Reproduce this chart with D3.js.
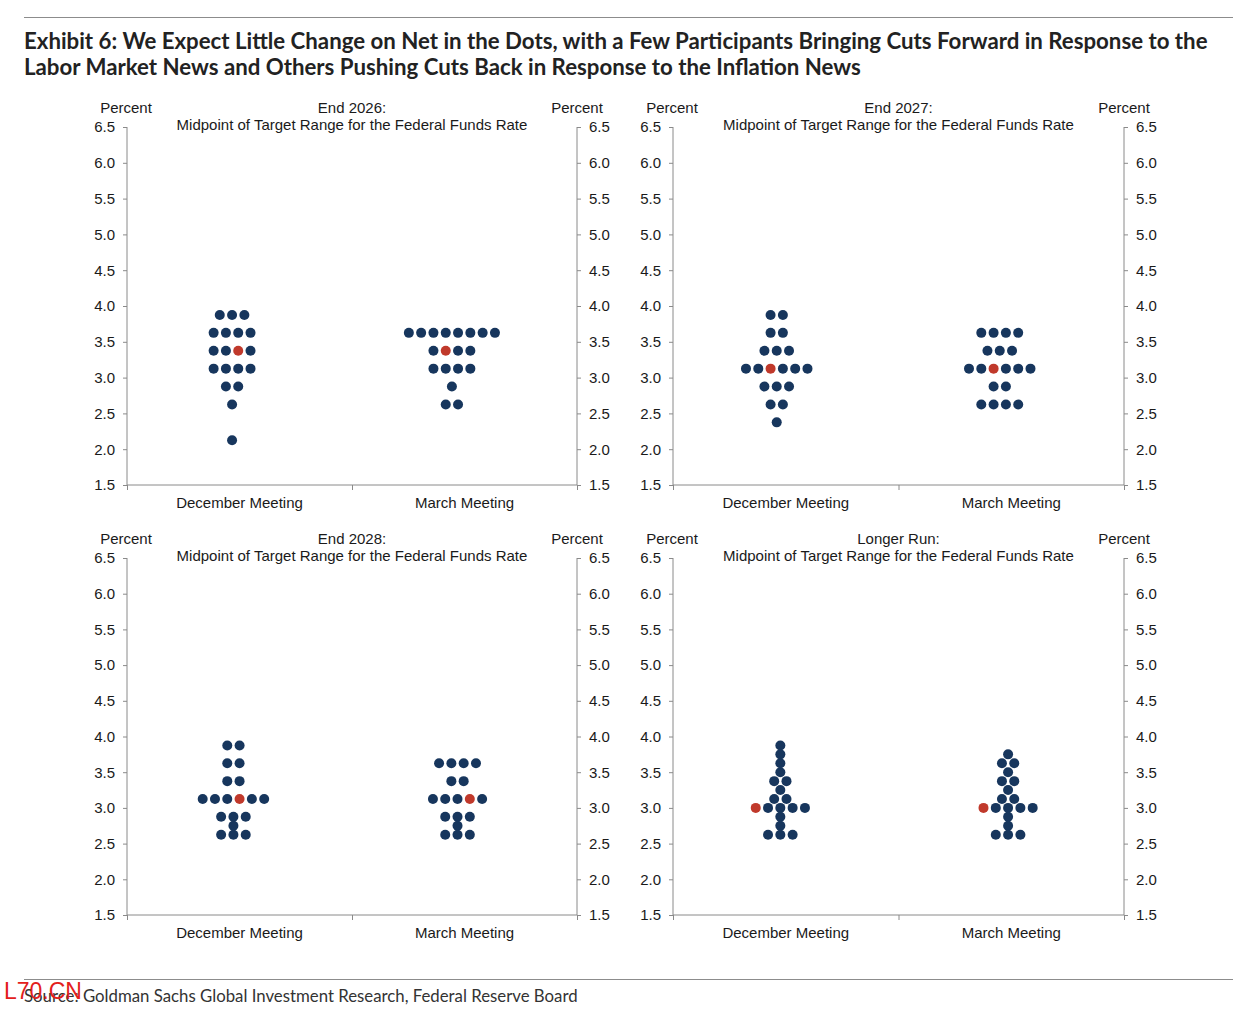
<!DOCTYPE html>
<html>
<head>
<meta charset="utf-8">
<script src="https://cdn.jsdelivr.net/npm/d3@7/dist/d3.min.js"></script>
<style>
  body { margin: 0; background: #fff; }
  svg text { font-family: "Liberation Sans", Arial, sans-serif; }
</style>
</head>
<body>
<div id="chart"></div>
<script>
// Data

var meetings = ["December Meeting", "March Meeting"];
var yTicks = [1.5, 2.0, 2.5, 3.0, 3.5, 4.0, 4.5, 5.0, 5.5, 6.0, 6.5];
var panelTitles = ["End 2026:", "End 2027:", "End 2028:", "Longer Run:"];

// each row: [rate, number of dots, index of median dot (-1 = none)]
var dec2026 = [[3.875, 3, -1], [3.625, 4, -1], [3.375, 4, 2], [3.125, 4, -1], [2.875, 2, -1], [2.625, 1, -1], [2.125, 1, -1]];
var mar2026 = [[3.625, 8, -1], [3.375, 4, 1], [3.125, 4, -1], [2.875, 1, -1], [2.625, 2, -1]];

var dec2027 = [[3.875, 2, -1], [3.625, 2, -1], [3.375, 3, -1], [3.125, 6, 2], [2.875, 3, -1], [2.625, 2, -1], [2.375, 1, -1]];
var mar2027 = [[3.625, 4, -1], [3.375, 3, -1], [3.125, 6, 2], [2.875, 2, -1], [2.625, 4, -1]];

var dec2028 = [[3.875, 2, -1], [3.625, 2, -1], [3.375, 2, -1], [3.125, 6, 3], [2.875, 3, -1], [2.75, 1, -1], [2.625, 3, -1]];
var mar2028 = [[3.625, 4, -1], [3.375, 2, -1], [3.125, 5, 3], [2.875, 3, -1], [2.75, 1, -1], [2.625, 3, -1]];

var decLR = [[3.875, 1, -1], [3.75, 1, -1], [3.625, 1, -1], [3.5, 1, -1], [3.375, 2, -1], [3.25, 1, -1], [3.125, 2, -1], [3.0, 5, 0], [2.875, 1, -1], [2.75, 1, -1], [2.625, 3, -1]];
var marLR = [[3.75, 1, -1], [3.625, 2, -1], [3.5, 1, -1], [3.375, 2, -1], [3.25, 1, -1], [3.125, 2, -1], [3.0, 5, 0], [2.875, 1, -1], [2.75, 1, -1], [2.625, 3, -1]];

// Layout

var W = 1247, H = 1009;
var navy = "#17365d";
var red = "#c0392b";
var axisColor = "#8a8a8a";
var textColor = "#1a1a1a";

var svg = d3.select("#chart").append("svg")
  .attr("width", W)
  .attr("height", H);

// panel boxes (plot area)
var panels = [
  { left: 127, right: 577, top: 127, bottom: 485, dec: dec2026, mar: mar2026, cx: [0.467, 1.444] },
  { left: 673, right: 1124, top: 127, bottom: 485, dec: dec2027, mar: mar2027, cx: [0.460, 1.449] },
  { left: 127, right: 577, top: 558, bottom: 915, dec: dec2028, mar: mar2028, cx: [0.473, 1.469] },
  { left: 673, right: 1124, top: 558, bottom: 915, dec: decLR, mar: marLR, cx: [0.476, 1.486] }
];

var dotR = 5;
var dotGap = 12.3;

// Rules
svg.append("line").attr("x1", 24).attr("x2", 1233).attr("y1", 17.5).attr("y2", 17.5)
  .attr("stroke", "#8c8c8c").attr("stroke-width", 1);
svg.append("line").attr("x1", 24).attr("x2", 1233).attr("y1", 979.5).attr("y2", 979.5)
  .attr("stroke", "#8c8c8c").attr("stroke-width", 1);

// Title
var titleLines = [
  "Exhibit 6: We Expect Little Change on Net in the Dots, with a Few Participants Bringing Cuts Forward in Response to the",
  "Labor Market News and Others Pushing Cuts Back in Response to the Inflation News"
];
var t1 = svg.append("text")
  .attr("x", 24).attr("y", 49)
  .style("font-family", "Lato, 'Open Sans', sans-serif")
  .style("font-weight", "bold")
  .style("font-size", "20px")
  .attr("fill", "#222")
  .text(titleLines[0]);
// fit the first line to its width in the picture
var len = t1.node().getComputedTextLength();
var fs = 20 * 1184 / len;
t1.style("font-size", fs + "px");
svg.append("text")
  .attr("x", 24).attr("y", 75)
  .style("font-family", "Lato, 'Open Sans', sans-serif")
  .style("font-weight", "bold")
  .style("font-size", fs + "px")
  .attr("fill", "#222")
  .text(titleLines[1]);

// Source
var src = svg.append("text")
  .attr("x", 24).attr("y", 1002)
  .style("font-family", "Lato, 'Open Sans', sans-serif")
  .style("font-size", "16px")
  .attr("fill", "#333")
  .text("Source: Goldman Sachs Global Investment Research, Federal Reserve Board");
var sl = src.node().getComputedTextLength();
src.style("font-size", (16 * 554 / sl) + "px");

// watermark
svg.append("text")
  .attr("x", 4).attr("y", 999)
  .style("font-size", "23px")
  .attr("fill", "#e3201b")
  .text("L70.CN");

// Panels
panels.forEach(function(p, i) {
  var g = svg.append("g");

  var x = d3.scaleLinear().domain([0, 2]).range([p.left, p.right]);
  var y = d3.scaleLinear().domain([1.5, 6.5]).range([p.bottom, p.top]);

  var yLeft = d3.axisLeft(y).tickValues(yTicks).tickSize(4).tickPadding(8).tickFormat(d3.format(".1f"));
  var yRight = d3.axisRight(y).tickValues(yTicks).tickSize(4).tickPadding(8).tickFormat(d3.format(".1f"));
  var xAxis = d3.axisBottom(x).tickValues([0, 1, 2]).tickSize(5).tickFormat("");

  function styleAxis(sel) {
    sel.select(".domain").attr("stroke", axisColor);
    sel.selectAll(".tick line").attr("stroke", axisColor);
    sel.selectAll(".tick text")
      .attr("fill", textColor)
      .style("font-size", "15px")
      .style("font-family", "'Liberation Sans', Arial, sans-serif");
  }

  g.append("g").attr("transform", "translate(" + p.left + ",0)").call(yLeft).call(styleAxis)
    .select(".domain").attr("d", "M0," + p.top + "V" + p.bottom);
  g.append("g").attr("transform", "translate(" + p.right + ",0)").call(yRight).call(styleAxis)
    .select(".domain").attr("d", "M0," + p.top + "V" + p.bottom);
  g.append("g").attr("transform", "translate(0," + p.bottom + ")").call(xAxis).call(styleAxis)
    .select(".domain").attr("d", "M" + p.left + ",0H" + p.right);

  // category labels
  meetings.forEach(function(m, j) {
    g.append("text")
      .attr("x", x(j + 0.5))
      .attr("y", p.bottom + 23)
      .attr("text-anchor", "middle")
      .style("font-size", "15px")
      .attr("fill", textColor)
      .text(m);
  });

  // headers
  var mid = (p.left + p.right) / 2;
  g.append("text").attr("x", mid).attr("y", p.top - 14).attr("text-anchor", "middle")
    .style("font-size", "15px").attr("fill", textColor).text(panelTitles[i]);
  g.append("text").attr("x", mid).attr("y", p.top + 3).attr("text-anchor", "middle")
    .style("font-size", "15px").attr("fill", textColor).text("Midpoint of Target Range for the Federal Funds Rate");
  g.append("text").attr("x", p.left - 1).attr("y", p.top - 14).attr("text-anchor", "middle")
    .style("font-size", "15px").attr("fill", textColor).text("Percent");
  g.append("text").attr("x", p.right).attr("y", p.top - 14).attr("text-anchor", "middle")
    .style("font-size", "15px").attr("fill", textColor).text("Percent");

  // dots
  [p.dec, p.mar].forEach(function(rows, j) {
    var cx = x(p.cx[j]);
    var dots = [];
    rows.forEach(function(r) {
      for (var k = 0; k < r[1]; k++) {
        dots.push({
          rate: r[0],
          off: (k - (r[1] - 1) / 2) * dotGap,
          median: k === r[2]
        });
      }
    });
    g.selectAll(null).data(dots).enter()
      .append("circle")
      .attr("cx", function(d) { return cx + d.off; })
      .attr("cy", function(d) { return y(d.rate); })
      .attr("r", dotR)
      .attr("fill", function(d) { return d.median ? red : navy; });
  });
});
</script>
</body>
</html>
